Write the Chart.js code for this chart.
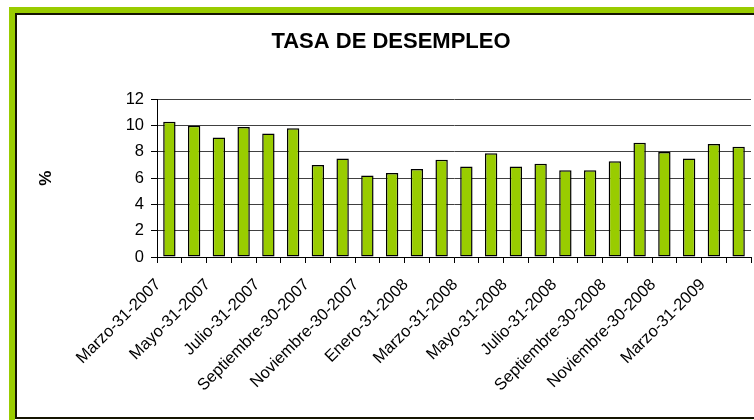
<!DOCTYPE html>
<html lang="es">
<head>
<meta charset="utf-8">
<title>Tasa de desempleo</title>
<script src="https://cdn.jsdelivr.net/npm/chart.js@4.4.1/dist/chart.umd.min.js"></script>
<style>
    html, body {
        margin: 0;
        padding: 0;
        background: #ffffff;
        overflow: hidden;
        width: 754px;
        height: 420px;
    }
    .frame {
        position: absolute;
        left: 9px;
        top: 7px;
        width: 780px;
        height: 440px;
        border-top: 6px solid #99cc00;
        border-left: 6px solid #99cc00;
    }
    .inner {
        position: absolute;
        left: 15px;
        top: 13px;
        width: 780px;
        height: 402px;
        border-top: 2px solid #141400;
        border-left: 2px solid #141400;
        border-bottom: 2px solid #141400;
    }
    #chart {
        position: absolute;
        left: 17px;
        top: 15px;
    }
</style>
</head>
<body>
<div class="frame"></div>
<div class="inner"></div>
<canvas id="chart" width="749" height="402"></canvas>

<script>
const FONT = "'Liberation Sans', Arial, sans-serif";

const fechas = [
    'Marzo-31-2007', 'Abril-30-2007', 'Mayo-31-2007', 'Junio-30-2007',
    'Julio-31-2007', 'Agosto-31-2007', 'Septiembre-30-2007', 'Octubre-31-2007',
    'Noviembre-30-2007', 'Diciembre-31-2007', 'Enero-31-2008', 'Febrero-29-2008',
    'Marzo-31-2008', 'Abril-30-2008', 'Mayo-31-2008', 'Junio-30-2008',
    'Julio-31-2008', 'Agosto-31-2008', 'Septiembre-30-2008', 'Octubre-31-2008',
    'Noviembre-30-2008', 'Diciembre-31-2008', 'Marzo-31-2009', 'Abril-30-2009'
];

const desempleo = [
    10.3, 10.0, 9.1, 9.9, 9.4, 9.8, 7.0, 7.5, 6.2, 6.4, 6.7, 7.4,
    6.9, 7.9, 6.9, 7.1, 6.6, 6.6, 7.3, 8.7, 8.0, 7.5, 8.6, 8.4
];

const yTicks = [0, 2, 4, 6, 8, 10, 12];

document.addEventListener('DOMContentLoaded', () => {
    drawChart();
});

function drawChart() {
    const ctx = document.getElementById('chart').getContext('2d');

    new Chart(ctx, {
        type: 'bar',
        data: {
            labels: fechas,
            datasets: [{
                label: 'Tasa de desempleo',
                data: desempleo,
                backgroundColor: '#99cc00',
                borderColor: '#000000',
                borderWidth: 1.5,
                borderSkipped: false,
                barPercentage: 0.5,
                categoryPercentage: 1.0
            }]
        },
        options: {
            responsive: false,
            animation: false,
            layout: {
                // left padding nudges the centred title to the right
                padding: { left: 14, right: 15, top: 0, bottom: 0 }
            },
            plugins: {
                legend: { display: false },
                tooltip: { enabled: false },
                title: {
                    display: true,
                    text: 'TASA DE DESEMPLEO',
                    color: '#000000',
                    font: { family: FONT, size: 22, weight: 'bold', lineHeight: 1.2 },
                    padding: { top: 14, bottom: 44 }
                }
            },
            scales: {
                x: {
                    grid: {
                        display: true,
                        offset: true,
                        drawOnChartArea: false,
                        drawTicks: true,
                        tickLength: 6,
                        color: '#000000'
                    },
                    border: { display: true, color: '#000000', width: 1 },
                    ticks: {
                        autoSkip: false,
                        maxRotation: 45,
                        minRotation: 45,
                        padding: 12,
                        labelOffset: -11,
                        color: '#000000',
                        font: { family: FONT, size: 16.5 },
                        // only every other date is written under the axis
                        callback: function (value, index) {
                            return index % 2 === 0 ? this.getLabelForValue(value) : '';
                        }
                    },
                    afterFit: function (scale) {
                        scale.height = 160;
                        scale.paddingLeft = 0;
                        scale.paddingRight = 0;
                    }
                },
                y: {
                    min: yTicks[0],
                    max: yTicks[yTicks.length - 1],
                    grid: {
                        color: '#404040',
                        tickColor: '#000000',
                        tickLength: 6,
                        lineWidth: 1
                    },
                    border: { display: true, color: '#000000', width: 1 },
                    ticks: {
                        stepSize: 2,
                        padding: 7,
                        color: '#000000',
                        font: { family: FONT, size: 16.5 }
                    },
                    title: {
                        display: true,
                        text: '%',
                        color: '#000000',
                        font: { family: FONT, size: 17, weight: 'bold', lineHeight: 1.2 },
                        padding: { top: 5, bottom: 0 }
                    },
                    afterBuildTicks: function (scale) {
                        scale.ticks = yTicks.map(v => ({ value: v }));
                    },
                    afterFit: function (scale) {
                        scale.width = 126;
                    }
                }
            }
        }
    });
}
</script>
</body>
</html>
